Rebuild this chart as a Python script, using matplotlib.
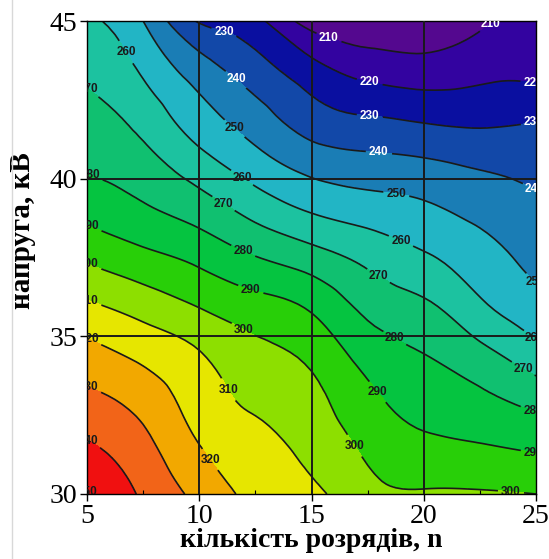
import numpy as np
import matplotlib
matplotlib.use("Agg")
import matplotlib.pyplot as plt
import matplotlib.tri as mtri
from matplotlib.lines import Line2D

# discharge count (columns) and voltage, kV (rows)
n_vals = [5, 7.5, 10, 12.5, 15, 17.5, 20, 22.5, 25]
u_vals = [30, 31.5, 33, 34.5, 36, 37.5, 39, 40.5, 42, 43.5, 45]

# response surface, one list per voltage row (bottom to top)
z_30 = [350.6, 338.5, 327.0, 317.5, 312.5, 303.0, 301.0, 301.0, 300.0]
z_315 = [341.3, 333.0, 320.3, 313.3, 306.9, 298.1, 292.5, 290.7, 288.5]
z_33 = [332.4, 326.1, 315.3, 308.2, 302.8, 292.6, 285.8, 282.2, 276.7]
z_345 = [323.1, 317.1, 310.3, 302.7, 297.2, 285.6, 279.8, 272.7, 263.3]
z_36 = [311.3, 305.5, 299.2, 293.5, 288.1, 277.1, 271.6, 261.5, 253.4]
z_375 = [298.3, 292.8, 287.5, 280.4, 274.4, 267.4, 261.4, 254.3, 247.1]
z_39 = [286.7, 281.5, 275.4, 266.5, 259.1, 255.2, 251.9, 247.1, 242.5]
z_405 = [278.3, 273.5, 263.8, 254.0, 246.0, 243.0, 241.4, 238.5, 236.5]
z_42 = [273.1, 266.0, 253.8, 243.9, 234.0, 230.0, 227.7, 226.9, 228.5]
z_435 = [267.7, 258.3, 244.4, 234.1, 223.3, 216.0, 213.9, 216.7, 217.0]
z_45 = [261.9, 250.0, 229.0, 222.5, 205.0, 202.0, 202.0, 208.3, 214.0]

levels = list(range(200, 370, 10))
band_colors = ["#54088f", "#3303a0", "#0a0fa0", "#1248a8", "#1a7db5",
               "#22b5c5", "#1cc2a0", "#10c070", "#05c440", "#28cf08",
               "#8ddf00", "#e6e600", "#f2a800", "#f26418", "#f01010",
               "#e00000"]

# where the level labels sit on the lines
label_spots = {
    210: [(15.96, 44.9), (23.0, 44.9)],
    220: [(17.6, 43.1), (24.9, 43.1)],
    230: [(11.2, 44.9), (17.6, 42.0), (24.9, 41.8)],
    240: [(11.7, 43.2), (18.0, 40.8), (24.9, 39.6)],
    250: [(11.7, 41.7), (18.8, 39.6), (24.9, 36.6)],
    260: [(6.7, 44.0), (11.95, 40.08), (19.0, 38.05), (24.9, 34.9)],
    270: [(5.1, 42.9), (11.07, 39.2), (18.05, 37.0), (24.2, 33.7)],
    280: [(5.1, 40.0), (11.95, 37.7), (18.8, 35.05), (24.9, 32.7)],
    290: [(5.1, 38.5), (12.3, 36.5), (18.05, 33.3), (24.9, 31.3)],
    300: [(5.1, 37.3), (12.1, 35.4), (16.85, 31.5), (23.9, 30.2)],
    310: [(5.1, 36.15), (11.5, 33.4)],
    320: [(5.1, 34.9), (10.5, 31.1)],
    330: [(5.1, 33.4)],
    340: [(5.1, 31.7)],
    350: [(5.1, 30.1)],
}

Z = np.array([z_30, z_315, z_33, z_345, z_36, z_375, z_39, z_405,
              z_42, z_435, z_45])
X, Y = np.meshgrid(n_vals, u_vals)

tri = mtri.Triangulation(X.ravel(), Y.ravel())
refiner = mtri.UniformTriRefiner(tri)
tri_f, z_f = refiner.refine_field(Z.ravel(), subdiv=3)

fig = plt.figure(figsize=(5.49, 5.59), dpi=100)
ax = fig.add_axes([0.1585, 0.1163, 0.8178, 0.8461])

ax.tricontourf(tri_f, z_f, levels=levels, colors=band_colors)

# one line set per level so each gets its own labels
for lev in levels[1:-1]:
    cs = ax.tricontour(tri_f, z_f, levels=[lev], colors="#1a1a1a",
                       linewidths=1.2)
    spots = label_spots.get(lev)
    if not spots or len(cs.allsegs[0]) == 0:
        continue
    col = "white" if lev <= 240 else "#1a1a1a"
    txts = cs.clabel(manual=spots, fmt="%d", fontsize=8.5, colors=col,
                     inline=True, inline_spacing=2)
    for t in txts:
        t.set_family("Liberation Sans")
        t.set_fontweight("bold")
        t.set_rotation(0)
        t.set_clip_on(True)

for xv in [10, 15, 20]:
    ax.axvline(xv, color="#1a1a1a", lw=1.4, zorder=3)
for yv in [35, 40]:
    ax.axhline(yv, color="#1a1a1a", lw=1.4, zorder=3)

ax.set_xlim(5, 25)
ax.set_ylim(30, 45)
ax.set_xticks([5, 10, 15, 20, 25])
ax.set_yticks([30, 35, 40, 45])
ax.set_xticks([7.5, 12.5, 17.5, 22.5], minor=True)
ax.tick_params(axis="both", which="major", direction="out", length=5,
               width=1, labelsize=20, pad=2)
ax.tick_params(axis="x", which="minor", direction="in", length=3, width=0.8)
for lbl in ax.get_xticklabels() + ax.get_yticklabels():
    lbl.set_family("Liberation Serif")
for sp in ax.spines.values():
    sp.set_linewidth(1.0)

ax.set_xlabel("кількість розрядів, n", family="Liberation Serif",
              fontsize=20, fontweight="bold")
ax.set_ylabel("напруга, кВ", family="Liberation Serif",
              fontsize=21, fontweight="bold")
ax.xaxis.set_label_coords(0.5, -0.072, transform=ax.transAxes)
ax.yaxis.set_label_coords(-0.114, 0.556, transform=ax.transAxes)

# faint frame edge on the left of the canvas
fig.add_artist(Line2D([0.022, 0.022], [0.0, 1.0], color="#d8d8d8", lw=1))

fig.savefig("out.png", dpi=100)
